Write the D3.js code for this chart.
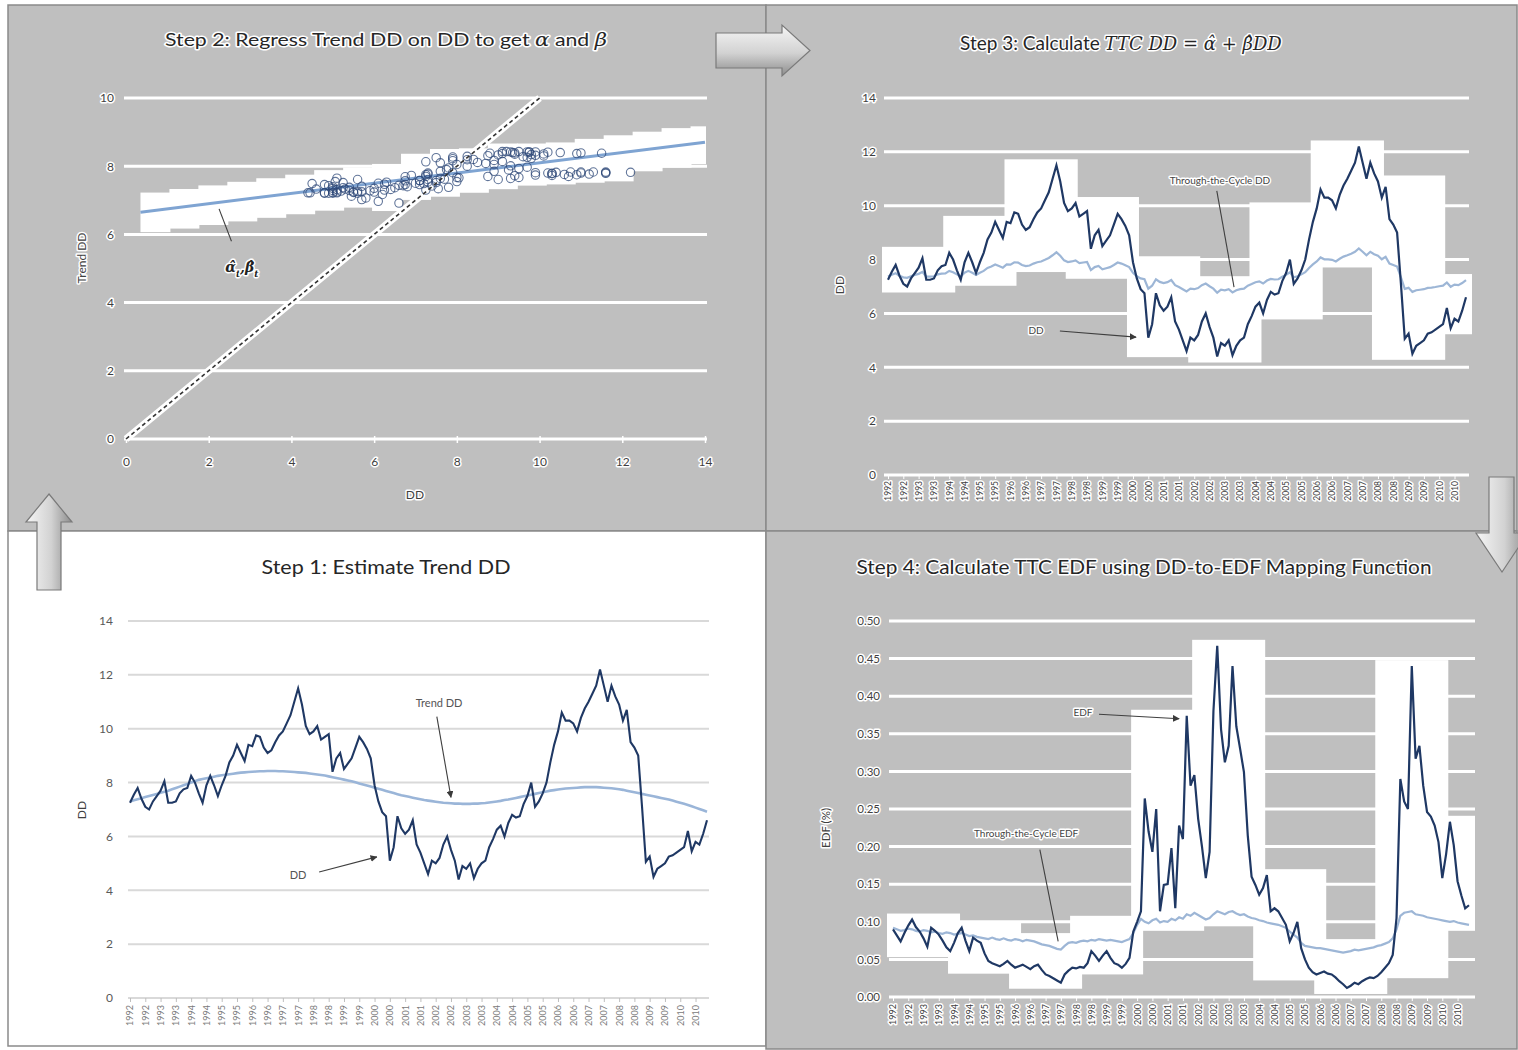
<!DOCTYPE html>
<html>
<head>
<meta charset="utf-8">
<title>Through-the-Cycle DD and EDF</title>
<script src="https://cdn.jsdelivr.net/npm/d3@7/dist/d3.min.js"></script>
<style>
  html, body { margin: 0; padding: 0; background: #fff; }
  svg { display: block; font-family: Lato, "Open Sans", "Liberation Sans", sans-serif; }
  .halo { paint-order: stroke; stroke: #fff; stroke-width: 3px; stroke-linejoin: round; }
  .math { font-family: "DejaVu Serif", "Liberation Serif", serif; font-style: italic; }
</style>
</head>
<body>
<svg id="chart" width="1518" height="1050"></svg>
<script>
// Distance-to-default, sampled 8 times a year, 1992 to 2010
const dd = [
  7.25, 7.55, 7.8, 7.4, 7.1, 7.0, 7.3, 7.5,
  7.7, 8.05, 7.25, 7.25, 7.3, 7.6, 7.75, 7.8,
  8.25, 8.0, 7.6, 7.25, 7.9, 8.25, 7.9, 7.5,
  7.9, 8.25, 8.75, 9.0, 9.4, 9.1, 8.8, 9.4,
  9.35, 9.75, 9.7, 9.3, 9.1, 9.2, 9.5, 9.75,
  9.9, 10.2, 10.5, 11.0, 11.5, 10.9, 10.1, 9.8,
  9.9, 10.1, 9.6, 9.7, 9.8, 8.4, 8.9, 9.1,
  8.5, 8.7, 8.9, 9.3, 9.7, 9.5, 9.25, 8.9,
  7.9, 7.3, 6.9, 6.75, 5.1, 5.6, 6.75, 6.3,
  6.1, 6.25, 6.6, 5.7, 5.4, 5.0, 4.6, 5.1,
  5.0, 5.2, 5.7, 6.0, 5.5, 5.1, 4.4, 4.9,
  4.8, 5.0, 4.45, 4.8, 5.0, 5.1, 5.6, 5.9,
  6.25, 6.4, 6.0, 6.5, 6.8, 6.7, 6.75, 7.2,
  7.5, 8.0, 7.1, 7.3, 7.6, 8.0, 8.75, 9.4,
  9.9, 10.6, 10.3, 10.3, 10.2, 9.9, 10.4, 10.75,
  11.0, 11.3, 11.6, 12.2, 11.6, 11.0, 11.6, 11.2,
  10.9, 10.3, 10.7, 9.5, 9.3, 9.0, 7.1, 5.06,
  5.25, 4.5, 4.8, 4.9, 5.0, 5.25, 5.3, 5.4,
  5.5, 5.6, 6.2, 5.45, 5.8, 5.7, 6.1, 6.6
];

// Smoothed trend of DD
const trendDD = [
  7.30, 7.34, 7.38, 7.42, 7.46, 7.50, 7.54, 7.58,
  7.62, 7.66, 7.70, 7.75, 7.80, 7.85, 7.90, 7.95,
  8.00, 8.05, 8.10, 8.13, 8.16, 8.19, 8.22, 8.25,
  8.27, 8.29, 8.31, 8.33, 8.35, 8.37, 8.38, 8.39,
  8.40, 8.41, 8.42, 8.42, 8.43, 8.43, 8.43, 8.42,
  8.42, 8.41, 8.40, 8.39, 8.38, 8.37, 8.36, 8.34,
  8.32, 8.30, 8.28, 8.26, 8.23, 8.20, 8.17, 8.14,
  8.11, 8.08, 8.05, 8.01, 7.97, 7.93, 7.89, 7.85,
  7.81, 7.77, 7.73, 7.69, 7.65, 7.61, 7.57, 7.53,
  7.50, 7.47, 7.44, 7.41, 7.38, 7.35, 7.33, 7.31,
  7.29, 7.27, 7.25, 7.24, 7.23, 7.22, 7.22, 7.21,
  7.21, 7.21, 7.22, 7.22, 7.23, 7.24, 7.26, 7.28,
  7.30, 7.32, 7.35, 7.37, 7.40, 7.43, 7.46, 7.49,
  7.52, 7.55, 7.58, 7.61, 7.64, 7.67, 7.70, 7.72,
  7.74, 7.76, 7.78, 7.79, 7.80, 7.81, 7.82, 7.83,
  7.83, 7.83, 7.83, 7.82, 7.81, 7.80, 7.79, 7.77,
  7.75, 7.73, 7.70, 7.67, 7.64, 7.61, 7.58, 7.55,
  7.52, 7.49, 7.46, 7.43, 7.40, 7.37, 7.33, 7.29,
  7.25, 7.21, 7.17, 7.12, 7.07, 7.02, 6.97, 6.92
];

// Through-the-cycle DD
const ttcDD = [
  7.37, 7.44, 7.49, 7.40, 7.34, 7.32, 7.38, 7.43,
  7.47, 7.54, 7.37, 7.37, 7.38, 7.45, 7.48, 7.49,
  7.58, 7.53, 7.45, 7.37, 7.51, 7.58, 7.51, 7.43,
  7.51, 7.58, 7.69, 7.74, 7.82, 7.76, 7.70, 7.82,
  7.81, 7.90, 7.89, 7.80, 7.76, 7.78, 7.85, 7.90,
  7.93, 7.99, 8.06, 8.16, 8.27, 8.14, 7.97, 7.91,
  7.93, 7.97, 7.87, 7.89, 7.91, 7.61, 7.72, 7.76,
  7.64, 7.68, 7.72, 7.80, 7.89, 7.85, 7.79, 7.72,
  7.51, 7.38, 7.30, 7.27, 6.92, 7.03, 7.27, 7.17,
  7.13, 7.16, 7.24, 7.05, 6.98, 6.90, 6.82, 6.92,
  6.90, 6.94, 7.05, 7.11, 7.01, 6.92, 6.77, 6.88,
  6.86, 6.90, 6.78, 6.86, 6.90, 6.92, 7.03, 7.09,
  7.16, 7.19, 7.11, 7.22, 7.28, 7.26, 7.27, 7.36,
  7.43, 7.53, 7.34, 7.38, 7.45, 7.53, 7.69, 7.82,
  7.93, 8.08, 8.01, 8.01, 7.99, 7.93, 8.03, 8.11,
  8.16, 8.22, 8.29, 8.41, 8.29, 8.16, 8.29, 8.20,
  8.14, 8.01, 8.10, 7.85, 7.80, 7.74, 7.34, 6.91,
  6.95, 6.80, 6.86, 6.88, 6.90, 6.95, 6.96, 6.98,
  7.01, 7.03, 7.15, 6.99, 7.07, 7.05, 7.13, 7.24
];

// Expected default frequency (%)
const edf = [
  0.090, 0.082, 0.074, 0.085, 0.095, 0.103, 0.093, 0.087,
  0.078, 0.067, 0.092, 0.088, 0.083, 0.075, 0.066, 0.061,
  0.072, 0.085, 0.092, 0.075, 0.061, 0.079, 0.075, 0.072,
  0.058, 0.048, 0.045, 0.043, 0.041, 0.044, 0.048, 0.043,
  0.039, 0.041, 0.043, 0.040, 0.037, 0.041, 0.043, 0.036,
  0.030, 0.028, 0.025, 0.022, 0.019, 0.030, 0.035, 0.039,
  0.038, 0.040, 0.039, 0.045, 0.061, 0.055, 0.048, 0.055,
  0.061, 0.052, 0.045, 0.043, 0.039, 0.044, 0.052, 0.087,
  0.100, 0.114, 0.264, 0.220, 0.193, 0.250, 0.114, 0.149,
  0.150, 0.198, 0.118, 0.228, 0.210, 0.374, 0.281, 0.295,
  0.237, 0.200, 0.158, 0.193, 0.380, 0.467, 0.356, 0.312,
  0.334, 0.440, 0.360, 0.330, 0.299, 0.215, 0.160, 0.149,
  0.136, 0.145, 0.162, 0.114, 0.118, 0.114, 0.105, 0.096,
  0.074, 0.085, 0.100, 0.065, 0.050, 0.039, 0.033, 0.030,
  0.032, 0.034, 0.031, 0.030, 0.026, 0.021, 0.017, 0.012,
  0.015, 0.019, 0.017, 0.021, 0.024, 0.026, 0.025, 0.028,
  0.033, 0.039, 0.045, 0.056, 0.105, 0.290, 0.260, 0.250,
  0.440, 0.317, 0.334, 0.281, 0.246, 0.240, 0.228, 0.206,
  0.158, 0.190, 0.233, 0.202, 0.154, 0.135, 0.118, 0.122
];

// Through-the-cycle EDF (%)
const ttcEdf = [
  0.092, 0.090, 0.088, 0.089, 0.091, 0.090, 0.088, 0.087,
  0.089, 0.088, 0.086, 0.087, 0.085, 0.084, 0.086, 0.085,
  0.083, 0.084, 0.085, 0.083, 0.081, 0.082, 0.080, 0.079,
  0.078, 0.077, 0.079, 0.077, 0.076, 0.078, 0.076, 0.075,
  0.077, 0.076, 0.074, 0.076, 0.075, 0.074, 0.072, 0.070,
  0.069, 0.068, 0.066, 0.064, 0.063, 0.068, 0.072, 0.073,
  0.072, 0.074, 0.075, 0.074, 0.076, 0.075, 0.077, 0.076,
  0.075, 0.076, 0.075, 0.074, 0.073, 0.075, 0.077, 0.085,
  0.096, 0.104, 0.100, 0.098, 0.102, 0.104, 0.099, 0.101,
  0.100, 0.104, 0.102, 0.106, 0.104, 0.110, 0.108, 0.112,
  0.109, 0.106, 0.103, 0.105, 0.110, 0.114, 0.112, 0.110,
  0.113, 0.114, 0.111, 0.109, 0.110, 0.107, 0.105, 0.104,
  0.102, 0.101, 0.099, 0.098, 0.097, 0.096, 0.094, 0.092,
  0.087, 0.083, 0.079, 0.072, 0.068, 0.067, 0.066, 0.065,
  0.065, 0.064, 0.063, 0.062, 0.061, 0.060, 0.059, 0.060,
  0.061, 0.063, 0.062, 0.063, 0.064, 0.065, 0.066, 0.068,
  0.069, 0.071, 0.073, 0.078, 0.090, 0.108, 0.112, 0.113,
  0.114, 0.110, 0.109, 0.108, 0.106, 0.105, 0.104, 0.103,
  0.102, 0.101, 0.100, 0.101, 0.099, 0.098, 0.097, 0.096
];

// Category labels on the time axes (one every half year)
const periodLabels = [
  "1992", "1992", "1993", "1993", "1994", "1994", "1995", "1995",
  "1996", "1996", "1997", "1997", "1998", "1998", "1999", "1999",
  "2000", "2000", "2001", "2001", "2002", "2002", "2003", "2003",
  "2004", "2004", "2005", "2005", "2006", "2006", "2007", "2007",
  "2008", "2008", "2009", "2009", "2010", "2010"
];
const samplesPerLabel = 4;

const ddTicks = [0, 2, 4, 6, 8, 10, 12, 14];
const edfTicks = [0, 0.05, 0.10, 0.15, 0.20, 0.25, 0.30, 0.35, 0.40, 0.45, 0.50];
const scatterXTicks = [0, 2, 4, 6, 8, 10, 12, 14];
const scatterYTicks = [0, 2, 4, 6, 8, 10];

// Fitted regression of Trend DD on DD (step 2) and the 45-degree reference
const regAlpha = 6.6;
const regBeta = 0.15;
const regRange = [0.35, 14];
const identityRange = [0, 10];

const svg = d3.select("#chart");
const defs = svg.append("defs");

defs.append("marker").attr("id", "head")
  .attr("viewBox", "0 0 10 10").attr("refX", 9).attr("refY", 5)
  .attr("markerWidth", 7).attr("markerHeight", 7)
  .attr("markerUnits", "userSpaceOnUse").attr("orient", "auto")
  .append("path").attr("d", "M0,0L10,5L0,10z").attr("fill", "#3a3a3a");

function gradient(id, horizontal) {
  const g = defs.append("linearGradient").attr("id", id)
    .attr("x1", 0).attr("y1", 0).attr("x2", horizontal ? 1 : 0).attr("y2", horizontal ? 0 : 1);
  g.append("stop").attr("offset", "0%").attr("stop-color", "#f6f6f6");
  g.append("stop").attr("offset", "55%").attr("stop-color", "#d2d2d2");
  g.append("stop").attr("offset", "100%").attr("stop-color", "#8c8c8c");
}
gradient("gradDown", false);
gradient("gradSide", true);

// ---------- panels ----------
const panels = [
  { x: 8, y: 5, w: 758, h: 526, fill: "#bfbfbf" },
  { x: 766, y: 5, w: 751, h: 526, fill: "#bfbfbf" },
  { x: 8, y: 531, w: 758, h: 515, fill: "#ffffff" },
  { x: 766, y: 531, w: 751, h: 518, fill: "#bfbfbf" }
];
svg.append("g").selectAll("rect").data(panels).join("rect")
  .attr("x", d => d.x).attr("y", d => d.y).attr("width", d => d.w).attr("height", d => d.h)
  .attr("fill", d => d.fill).attr("stroke", "#8a8a8a").attr("stroke-width", 1.5);

// ---------- helpers ----------
function cleanAxis(g) {
  g.attr("font-family", null).attr("font-size", null);
  g.select(".domain").remove();
  return g;
}

function whitePatches(g, x, y, seriesList, chunk, pad) {
  const n = seriesList[0].length;
  const boxes = [];
  for (let s = 0; s < n - 1; s += chunk) {
    const e = Math.min(n - 1, s + chunk);
    let lo = Infinity, hi = -Infinity;
    for (let i = s; i <= e; i++) {
      for (const ser of seriesList) { lo = Math.min(lo, ser[i]); hi = Math.max(hi, ser[i]); }
    }
    boxes.push({ s, e, lo, hi });
  }
  g.append("g").selectAll("rect").data(boxes).join("rect")
    .attr("x", d => x(d.s) - pad)
    .attr("width", d => x(d.e) - x(d.s) + 2 * pad)
    .attr("y", d => y(d.hi) - pad)
    .attr("height", d => y(d.lo) - y(d.hi) + 2 * pad)
    .attr("fill", "#fff");
}

function timeAxis(g, x, y0, opts) {
  const idx = periodLabels.map((_, i) => i * samplesPerLabel);
  const ax = d3.axisBottom(x).tickValues(idx)
    .tickFormat((d, i) => periodLabels[i]).tickSize(4).tickSizeOuter(0);
  const ga = g.append("g").attr("transform", `translate(0,${y0})`).call(ax).call(cleanAxis);
  ga.selectAll(".tick line").attr("stroke", opts.tickColor);
  ga.selectAll(".tick text")
    .attr("transform", "rotate(-90)").attr("text-anchor", "end")
    .attr("x", -opts.offset).attr("y", 0).attr("dy", "0.33em")
    .style("font-size", opts.size + "px").attr("fill", opts.color)
    .classed("halo", !!opts.halo);
}

function pointer(g, from, to, head) {
  g.append("line")
    .attr("x1", from[0]).attr("y1", from[1]).attr("x2", to[0]).attr("y2", to[1])
    .attr("stroke", "#3f3f3f").attr("stroke-width", 1.1)
    .attr("marker-end", head ? "url(#head)" : null);
}

function label(g, xPos, yPos, text, size, halo, color) {
  return g.append("text").attr("x", xPos).attr("y", yPos).attr("text-anchor", "middle")
    .attr("dy", "0.35em").style("font-size", size + "px").attr("fill", color || "#333")
    .classed("halo", !!halo).text(text);
}

const seriesLine = (x, y) => d3.line().x((d, i) => x(i)).y(d => y(d));

// ---------- Step 1: DD and its trend ----------
{
  const g = svg.append("g");
  const x = d3.scaleLinear().domain([0, dd.length - 1]).range([130, 707]);
  const y = d3.scaleLinear().domain([0, 14]).range([998, 621]);

  g.append("g").selectAll("line").data(ddTicks).join("line")
    .attr("x1", 128).attr("x2", 709).attr("y1", d => y(d)).attr("y2", d => y(d))
    .attr("stroke", "#d9d9d9").attr("stroke-width", 2);

  const ay = g.append("g").attr("transform", "translate(113,0)")
    .call(d3.axisLeft(y).tickValues(ddTicks).tickSize(0).tickPadding(0)).call(cleanAxis);
  ay.selectAll("text").style("font-size", "12px").attr("fill", "#595959");

  timeAxis(g, x, y(0), { tickColor: "#bfbfbf", offset: 7, size: 9, color: "#7a7a7a" });

  g.append("path").datum(trendDD).attr("d", seriesLine(x, y))
    .attr("fill", "none").attr("stroke", "#9ab5d8").attr("stroke-width", 2.6);
  g.append("path").datum(dd).attr("d", seriesLine(x, y))
    .attr("fill", "none").attr("stroke", "#1f3864").attr("stroke-width", 2.1);

  g.append("text").attr("x", 386).attr("y", 574).attr("text-anchor", "middle")
    .attr("textLength", 249).attr("lengthAdjust", "spacingAndGlyphs")
    .style("font-size", "20px").attr("fill", "#262626").text("Step 1: Estimate Trend DD");

  g.append("text").attr("transform", "translate(82,810) rotate(-90)").attr("text-anchor", "middle")
    .attr("dy", "0.35em").style("font-size", "12px").attr("fill", "#404040").text("DD");

  label(g, x(80.9), y(10.95), "Trend DD", 11, false, "#555");
  pointer(g, [x(80.3), y(10.45)], [x(84), y(7.45)], true);
  label(g, x(44), y(4.57), "DD", 11, false, "#555");
  pointer(g, [x(49.5), y(4.68)], [x(64.6), y(5.24)], true);
}

// ---------- Step 2: regression of Trend DD on DD ----------
{
  const g = svg.append("g");
  const x = d3.scaleLinear().domain([0, 14]).range([126, 705]);
  const y = d3.scaleLinear().domain([0, 10]).range([439, 98]);
  const reg = v => regAlpha + regBeta * v;

  g.append("g").selectAll("line").data(scatterYTicks).join("line")
    .attr("x1", 124).attr("x2", 707).attr("y1", d => y(d)).attr("y2", d => y(d))
    .attr("stroke", "#fff").attr("stroke-width", 3);

  // white backdrop behind the fitted line and the point cloud
  const binW = 0.7;
  const bins = d3.range(regRange[0], regRange[1], binW).map(b0 => {
    const b1 = Math.min(b0 + binW, regRange[1]);
    let top = y(Math.max(reg(b0), reg(b1))) - 16;
    let bot = y(Math.min(reg(b0), reg(b1))) + 20;
    dd.forEach((v, i) => {
      if (v >= b0 && v < b1) { top = Math.min(top, y(trendDD[i]) - 8); bot = Math.max(bot, y(trendDD[i]) + 8); }
    });
    return { b0, b1, top, bot };
  });
  g.append("g").selectAll("rect").data(bins).join("rect")
    .attr("x", d => x(d.b0)).attr("width", d => x(d.b1) - x(d.b0) + 1)
    .attr("y", d => d.top).attr("height", d => d.bot - d.top).attr("fill", "#fff");

  const ax = g.append("g").attr("transform", `translate(0,${y(0) - 3})`)
    .call(d3.axisBottom(x).tickValues(scatterXTicks).tickSize(7).tickPadding(14)).call(cleanAxis);
  ax.selectAll(".tick line").attr("stroke", "#fff").attr("stroke-width", 1.5);
  ax.selectAll("text").style("font-size", "12px").attr("fill", "#3f3f3f").classed("halo", true);

  const ay = g.append("g").attr("transform", "translate(114,0)")
    .call(d3.axisLeft(y).tickValues(scatterYTicks).tickSize(0).tickPadding(0)).call(cleanAxis);
  ay.selectAll("text").style("font-size", "12px").attr("fill", "#3f3f3f").classed("halo", true);

  // 45-degree reference line
  const idLine = d3.line().x(v => x(v)).y(v => y(v));
  g.append("path").datum(identityRange).attr("d", idLine)
    .attr("stroke", "#fff").attr("stroke-width", 7).attr("fill", "none");

  // fitted line
  g.append("path").datum(regRange).attr("d", d3.line().x(v => x(v)).y(v => y(reg(v))))
    .attr("stroke", "#7fa4d2").attr("stroke-width", 3).attr("fill", "none");

  // (DD, Trend DD) pairs
  g.append("g").selectAll("circle").data(dd.map((v, i) => [v, trendDD[i]])).join("circle")
    .attr("cx", d => x(d[0])).attr("cy", d => y(d[1])).attr("r", 4.2)
    .attr("fill", "none").attr("stroke", "#2c4777").attr("stroke-width", 1.1).attr("stroke-opacity", 0.75);

  g.append("path").datum(identityRange).attr("d", idLine)
    .attr("stroke", "#333").attr("stroke-width", 1.6).attr("stroke-dasharray", "4,3").attr("fill", "none");

  const t = g.append("text").attr("x", 386).attr("y", 46).attr("text-anchor", "middle")
    .attr("textLength", 442).attr("lengthAdjust", "spacingAndGlyphs")
    .style("font-size", "18px").attr("fill", "#262626").classed("halo", true);
  t.append("tspan").text("Step 2: Regress Trend DD on DD to get ");
  t.append("tspan").attr("class", "math").text("α");
  t.append("tspan").text(" and ");
  t.append("tspan").attr("class", "math").text("β");

  label(g, 415, 495, "DD", 12, true, "#3f3f3f");
  g.append("text").attr("transform", "translate(82,258) rotate(-90)").attr("text-anchor", "middle")
    .attr("dy", "0.35em").style("font-size", "12px").attr("fill", "#3f3f3f").classed("halo", true).text("Trend DD");

  pointer(g, [x(2.25), y(6.75)], [x(2.55), y(5.8)], false);
  const a = g.append("text").attr("class", "math halo").attr("x", x(2.8)).attr("y", y(4.9)).attr("text-anchor", "middle")
    .style("font-weight", "bold").style("font-size", "14px").attr("fill", "#222");
  a.append("tspan").text("α\u0302");
  a.append("tspan").attr("baseline-shift", "sub").style("font-size", "9px").text("t");
  a.append("tspan").text(",β\u0302");
  a.append("tspan").attr("baseline-shift", "sub").style("font-size", "9px").text("t");
}

// ---------- Step 3: through-the-cycle DD ----------
{
  const g = svg.append("g");
  const x = d3.scaleLinear().domain([0, dd.length - 1]).range([888, 1466]);
  const y = d3.scaleLinear().domain([0, 14]).range([475, 98]);

  g.append("g").selectAll("line").data(ddTicks).join("line")
    .attr("x1", 884).attr("x2", 1469).attr("y1", d => y(d)).attr("y2", d => y(d))
    .attr("stroke", "#fff").attr("stroke-width", 3);

  whitePatches(g, x, y, [dd, ttcDD], 16, 6);

  const ay = g.append("g").attr("transform", "translate(876,0)")
    .call(d3.axisLeft(y).tickValues(ddTicks).tickSize(0).tickPadding(0)).call(cleanAxis);
  ay.selectAll("text").style("font-size", "12px").attr("fill", "#3f3f3f").classed("halo", true);

  timeAxis(g, x, y(0), { tickColor: "#fff", offset: 6, size: 8.5, color: "#404040", halo: true });

  g.append("path").datum(ttcDD).attr("d", seriesLine(x, y))
    .attr("fill", "none").attr("stroke", "#9db6d6").attr("stroke-width", 2.2);
  g.append("path").datum(dd).attr("d", seriesLine(x, y))
    .attr("fill", "none").attr("stroke", "#1f3864").attr("stroke-width", 2.2);

  const t = g.append("text").attr("x", 960).attr("y", 50)
    .style("font-size", "19px").attr("fill", "#262626").classed("halo", true);
  t.append("tspan").text("Step 3: Calculate  ");
  t.append("tspan").attr("class", "math").style("font-size", "18px").text("TTC DD = α\u0302 + β\u0302DD");

  g.append("text").attr("transform", "translate(840,285) rotate(-90)").attr("text-anchor", "middle")
    .attr("dy", "0.35em").style("font-size", "12px").attr("fill", "#3f3f3f").classed("halo", true).text("DD");

  label(g, x(86.7), y(10.95), "Through-the-Cycle DD", 10, true, "#444");
  pointer(g, [x(85.9), y(10.55)], [x(90.4), y(6.98)], false);
  label(g, x(38.7), y(5.35), "DD", 10, true, "#444");
  pointer(g, [x(44.9), y(5.35)], [x(64.8), y(5.12)], true);
}

// ---------- Step 4: through-the-cycle EDF ----------
{
  const g = svg.append("g");
  const x = d3.scaleLinear().domain([0, edf.length - 1]).range([893, 1469]);
  const y = d3.scaleLinear().domain([0, 0.5]).range([997, 621]);

  g.append("g").selectAll("line").data(edfTicks).join("line")
    .attr("x1", 889).attr("x2", 1475).attr("y1", d => y(d)).attr("y2", d => y(d))
    .attr("stroke", "#fff").attr("stroke-width", 3);

  whitePatches(g, x, y, [edf, ttcEdf], 16, 6);

  const ay = g.append("g").attr("transform", "translate(880,0)")
    .call(d3.axisLeft(y).tickValues(edfTicks).tickFormat(d3.format(".2f")).tickSize(0).tickPadding(0))
    .call(cleanAxis);
  ay.selectAll("text").style("font-size", "11.5px").attr("fill", "#3f3f3f").classed("halo", true);

  timeAxis(g, x, y(0), { tickColor: "#fff", offset: 7, size: 9, color: "#404040", halo: true });

  g.append("path").datum(ttcEdf).attr("d", seriesLine(x, y))
    .attr("fill", "none").attr("stroke", "#9db6d6").attr("stroke-width", 2.2);
  g.append("path").datum(edf).attr("d", seriesLine(x, y))
    .attr("fill", "none").attr("stroke", "#1f3864").attr("stroke-width", 2.2);

  g.append("text").attr("x", 1144).attr("y", 574).attr("text-anchor", "middle")
    .attr("textLength", 575).attr("lengthAdjust", "spacingAndGlyphs")
    .style("font-size", "19px").attr("fill", "#262626").classed("halo", true)
    .text("Step 4: Calculate TTC EDF using DD-to-EDF Mapping Function");

  g.append("text").attr("transform", "translate(826,828) rotate(-90)").attr("text-anchor", "middle")
    .attr("dy", "0.35em").style("font-size", "11.5px").attr("fill", "#3f3f3f").classed("halo", true).text("EDF (%)");

  label(g, x(49.8), y(0.378), "EDF", 10, true, "#444");
  pointer(g, [x(54), y(0.376)], [x(75), y(0.37)], true);
  label(g, x(34.9), y(0.218), "Through-the-Cycle EDF", 10, true, "#444");
  pointer(g, [x(38.5), y(0.196)], [x(43.3), y(0.074)], false);
}

// ---------- flow arrows between the steps ----------
const arrows = [
  { d: "M716,33L782,33L782,25L810,50.5L782,76L782,68L716,68Z", fill: "url(#gradDown)" },
  { d: "M49,494L72,522L61,522L61,590L37,590L37,522L26,522Z", fill: "url(#gradSide)" },
  { d: "M1489,477L1514,477L1514,533L1528,533L1502,572L1476,533L1489,533Z", fill: "url(#gradSide)" }
];
svg.append("g").selectAll("path").data(arrows).join("path")
  .attr("d", d => d.d).attr("fill", d => d.fill).attr("stroke", "#7a7a7a").attr("stroke-width", 1.2);
</script>
</body>
</html>
